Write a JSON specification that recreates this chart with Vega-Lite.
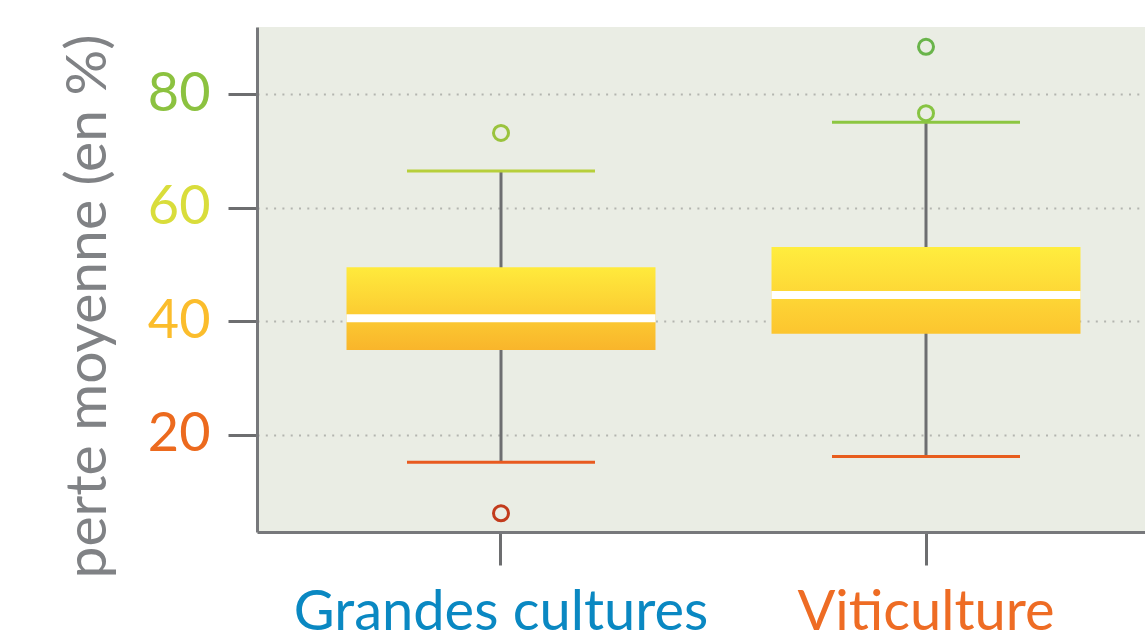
{
  "$schema": "https://vega.github.io/schema/vega-lite/v6.json",
  "autosize": "none",
  "padding": {"left": 257, "top": 27, "right": 0, "bottom": 108},
  "width": 888,
  "height": 505,
  "background": "white",
  "config": {
    "view": {"fill": "#eaede4", "stroke": null},
    "font": "Lato",
    "axis": {
      "domainColor": "#77787b",
      "domainWidth": 3,
      "tickColor": "#6d6e70",
      "tickWidth": 3,
      "labelFont": "Lato",
      "labelFontSize": 54,
      "labelLimit": 0,
      "titleFont": "Lato"
    }
  },
  "datasets": {
    "stats": [
      {"categorie": "Grandes cultures", "bas": 15.1, "q1": 34.9, "mediane": 40.5, "q3": 49.5, "haut": 66.5},
      {"categorie": "Viticulture", "bas": 16.1, "q1": 37.8, "mediane": 44.6, "q3": 53.1, "haut": 75.1}
    ],
    "aberrants": [
      {"categorie": "Grandes cultures", "perte": 73.2},
      {"categorie": "Grandes cultures", "perte": 6.1},
      {"categorie": "Viticulture", "perte": 76.7},
      {"categorie": "Viticulture", "perte": 88.4}
    ]
  },
  "encoding": {
    "x": {
      "field": "categorie",
      "type": "nominal",
      "sort": ["Grandes cultures", "Viticulture"],
      "scale": {"domain": ["Grandes cultures", "Viticulture"], "paddingInner": 0, "paddingOuter": 0.0447, "align": 0.829},
      "axis": {
        "title": null,
        "labelAngle": 0,
        "labelFontSize": 56,
        "tickSize": 33,
        "labelPadding": 20,
        "labelLimit": 0,
        "labelColor": {"condition": {"test": "datum.value == 'Viticulture'", "value": "#ee6c24"}, "value": "#0a88c2"}
      }
    }
  },
  "layer": [
    {
      "data": {"name": "stats"},
      "mark": {"type": "rule", "color": "#6d6e70", "strokeWidth": 3},
      "encoding": {
        "y": {
          "field": "bas",
          "type": "quantitative",
          "scale": {"domain": [2.8, 91.9], "nice": false, "zero": false},
          "axis": {
            "title": "perte moyenne (en %)",
            "titleFontSize": 57,
            "titleFontWeight": "normal",
            "titleColor": "#808285",
            "titleAngle": 270,
            "titleX": -169,
            "titleY": 279,
            "titleAlign": "center",
            "titleBaseline": "middle",
            "values": [20, 40, 60, 80],
            "tickSize": 29,
            "labelPadding": 18,
            "labelColor": {"expr": "datum.value == 80 ? '#8cc240' : datum.value == 60 ? '#d9dd3b' : datum.value == 40 ? '#fbbd2c' : '#ec6a1e'"},
            "grid": true,
            "gridColor": "#b3b5af",
            "gridWidth": 2,
            "gridDash": [2, 6.3]
          }
        },
        "y2": {"field": "haut"}
      }
    },
    {
      "data": {"name": "stats"},
      "transform": [{"filter": "datum.categorie == 'Grandes cultures'"}],
      "mark": {
        "type": "bar",
        "width": {"band": 0.727},
        "color": {"gradient": "linear", "x1": 0, "x2": 0, "y1": 0, "y2": 1,
          "stops": [{"offset": 0, "color": "#ffea3c"}, {"offset": 1, "color": "#f9b52b"}]}
      },
      "encoding": {"y": {"field": "q1", "type": "quantitative"}, "y2": {"field": "q3"}}
    },
    {
      "data": {"name": "stats"},
      "transform": [{"filter": "datum.categorie == 'Viticulture'"}],
      "mark": {
        "type": "bar",
        "width": {"band": 0.727},
        "color": {"gradient": "linear", "x1": 0, "x2": 0, "y1": 0, "y2": 1,
          "stops": [{"offset": 0, "color": "#ffed3e"}, {"offset": 1, "color": "#fcc52f"}]}
      },
      "encoding": {"y": {"field": "q1", "type": "quantitative"}, "y2": {"field": "q3"}}
    },
    {
      "data": {"name": "stats"},
      "mark": {"type": "tick", "color": "white", "size": 309, "thickness": 8, "opacity": 1},
      "encoding": {"y": {"field": "mediane", "type": "quantitative"}}
    },
    {
      "data": {"name": "stats"},
      "mark": {"type": "tick", "size": 188, "thickness": 3, "opacity": 1},
      "encoding": {
        "y": {"field": "haut", "type": "quantitative"},
        "color": {
          "field": "haut",
          "type": "quantitative",
          "legend": null,
          "scale": {"domain": [6, 15, 66.5, 73, 75, 88], "range": ["#c23b1c", "#e85a1f", "#b7cf3b", "#9cc33d", "#8cc641", "#6ab54a"]}
        }
      }
    },
    {
      "data": {"name": "stats"},
      "mark": {"type": "tick", "size": 188, "thickness": 3, "opacity": 1},
      "encoding": {
        "y": {"field": "bas", "type": "quantitative"},
        "color": {"field": "bas", "type": "quantitative", "legend": null}
      }
    },
    {
      "data": {"name": "aberrants"},
      "mark": {"type": "point", "shape": "circle", "filled": false, "size": 225, "strokeWidth": 3, "opacity": 1},
      "encoding": {
        "y": {"field": "perte", "type": "quantitative"},
        "color": {"field": "perte", "type": "quantitative", "legend": null}
      }
    }
  ]
}
